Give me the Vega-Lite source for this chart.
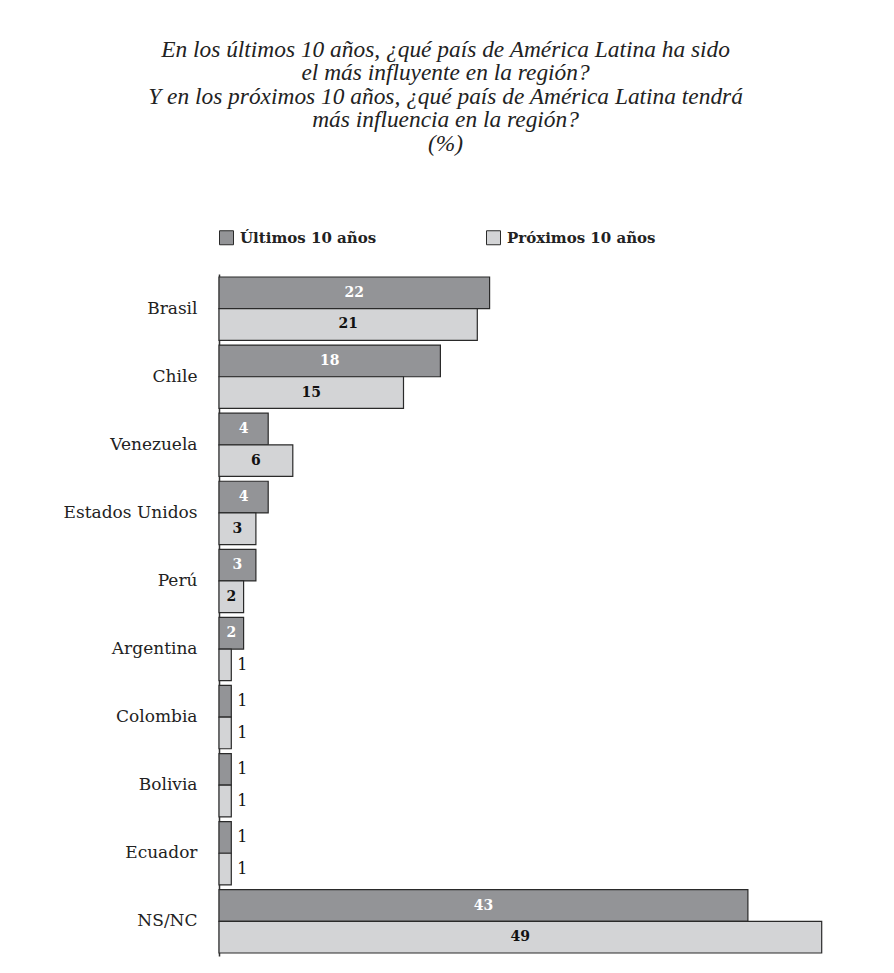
{
  "$schema": "https://vega.github.io/schema/vega-lite/v6.json",
  "width": 615,
  "height": 682,
  "autosize": {"type": "none"},
  "padding": {"left": 219, "top": 274, "right": 60, "bottom": 17},
  "background": "white",
  "title": {
    "text": ["En los últimos 10 años, ¿qué país de América Latina ha sido", "el más influyente en la región?", "Y en los próximos 10 años, ¿qué país de América Latina tendrá", "más influencia en la región?", "(%)"],
    "anchor": "middle",
    "frame": "bounds",
    "font": "Liberation Serif",
    "fontStyle": "italic",
    "fontWeight": "normal",
    "fontSize": 23.4,
    "lineHeight": 23.5,
    "color": "#222222",
    "offset": 74,
    "dx": -3
  },
  "data": {
    "values": [
      {"pais": "Brasil", "serie": "Últimos 10 años", "valor": 22},
      {"pais": "Brasil", "serie": "Próximos 10 años", "valor": 21},
      {"pais": "Chile", "serie": "Últimos 10 años", "valor": 18},
      {"pais": "Chile", "serie": "Próximos 10 años", "valor": 15},
      {"pais": "Venezuela", "serie": "Últimos 10 años", "valor": 4},
      {"pais": "Venezuela", "serie": "Próximos 10 años", "valor": 6},
      {"pais": "Estados Unidos", "serie": "Últimos 10 años", "valor": 4},
      {"pais": "Estados Unidos", "serie": "Próximos 10 años", "valor": 3},
      {"pais": "Perú", "serie": "Últimos 10 años", "valor": 3},
      {"pais": "Perú", "serie": "Próximos 10 años", "valor": 2},
      {"pais": "Argentina", "serie": "Últimos 10 años", "valor": 2},
      {"pais": "Argentina", "serie": "Próximos 10 años", "valor": 1},
      {"pais": "Colombia", "serie": "Últimos 10 años", "valor": 1},
      {"pais": "Colombia", "serie": "Próximos 10 años", "valor": 1},
      {"pais": "Bolivia", "serie": "Últimos 10 años", "valor": 1},
      {"pais": "Bolivia", "serie": "Próximos 10 años", "valor": 1},
      {"pais": "Ecuador", "serie": "Últimos 10 años", "valor": 1},
      {"pais": "Ecuador", "serie": "Próximos 10 años", "valor": 1},
      {"pais": "NS/NC", "serie": "Últimos 10 años", "valor": 43},
      {"pais": "NS/NC", "serie": "Próximos 10 años", "valor": 49}
    ]
  },
  "transform": [{"calculate": "datum.valor / 2", "as": "mitad"}],
  "encoding": {
    "y": {
      "field": "pais",
      "type": "nominal",
      "sort": null,
      "scale": {"paddingInner": 0.07, "paddingOuter": 0.044},
      "axis": {
        "title": null,
        "ticks": false,
        "labelFont": "DejaVu Serif",
        "labelFontSize": 17,
        "labelColor": "#222222",
        "labelPadding": 22,
        "domainColor": "#333333",
        "domainWidth": 1.5
      }
    },
    "yOffset": {
      "field": "serie",
      "type": "nominal",
      "sort": ["Últimos 10 años", "Próximos 10 años"],
      "scale": {"paddingInner": 0, "paddingOuter": 0}
    }
  },
  "layer": [
    {
      "mark": {"type": "bar", "stroke": "#2a2a2a", "strokeWidth": 1.2},
      "encoding": {
        "x": {
          "field": "valor",
          "type": "quantitative",
          "scale": {"domain": [0, 50], "nice": false},
          "axis": null
        },
        "color": {
          "field": "serie",
          "type": "nominal",
          "sort": ["Últimos 10 años", "Próximos 10 años"],
          "scale": {"domain": ["Últimos 10 años", "Próximos 10 años"], "range": ["#939497", "#d3d4d6"]},
          "legend": {
            "title": null,
            "orient": "none",
            "legendX": 0,
            "legendY": -44,
            "direction": "horizontal",
            "columns": 2,
            "columnPadding": 107,
            "symbolType": "square",
            "symbolSize": 196,
            "symbolStrokeColor": "#2a2a2a",
            "symbolStrokeWidth": 1,
            "symbolOpacity": 1,
            "labelFont": "DejaVu Serif",
            "labelFontWeight": "bold",
            "labelFontSize": 15,
            "labelColor": "#222222",
            "labelOffset": 6
          }
        }
      }
    },
    {
      "transform": [{"filter": "datum.valor >= 2"}],
      "mark": {"type": "text", "font": "DejaVu Serif", "fontWeight": "bold", "fontSize": 14, "align": "center", "baseline": "middle"},
      "encoding": {
        "x": {"field": "mitad", "type": "quantitative"},
        "text": {"field": "valor", "type": "quantitative"},
        "color": {
          "condition": {"test": "datum.serie === 'Últimos 10 años'", "value": "#ffffff"},
          "value": "#111111"
        }
      }
    },
    {
      "transform": [{"filter": "datum.valor < 2"}],
      "mark": {"type": "text", "font": "DejaVu Serif", "fontWeight": "normal", "fontSize": 16, "align": "left", "baseline": "middle", "dx": 6},
      "encoding": {
        "x": {"field": "valor", "type": "quantitative"},
        "text": {"field": "valor", "type": "quantitative"},
        "color": {"value": "#111111"}
      }
    }
  ],
  "config": {"view": {"stroke": null}}
}
